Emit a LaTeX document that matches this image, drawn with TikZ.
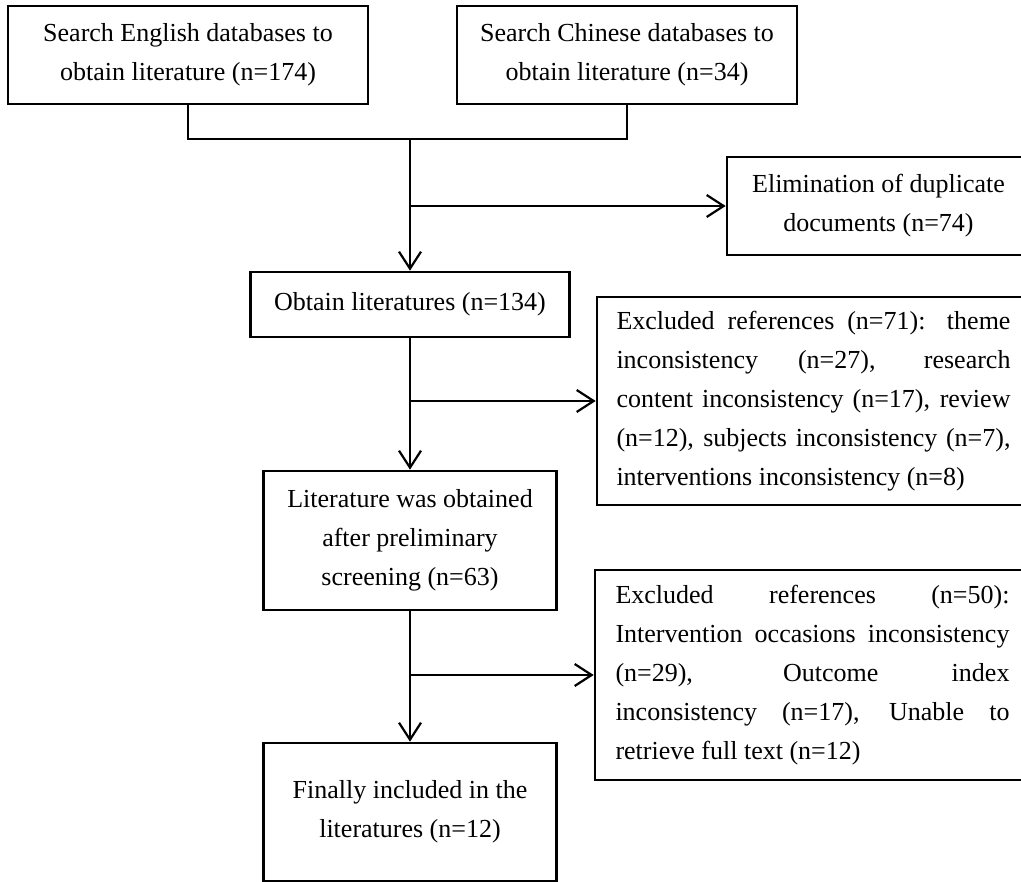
\documentclass[tikz,border=0pt]{standalone}
\usepackage{fontspec}
\setmainfont{Liberation Serif}
\usetikzlibrary{arrows.meta}
\newcommand{\jbox}[1]{\parbox{394pt}{\tolerance=10000\hyphenpenalty=10000\fontsize{26}{39}\selectfont #1}}
\begin{document}
\begin{tikzpicture}[x=1pt,y=-1pt,
  box/.style={draw, line width=2.6pt, inner sep=0pt, font=\fontsize{26}{39}\selectfont, align=center},
  jstbox/.style={draw, line width=2.6pt, inner sep=0pt},
  conn/.style={line width=2.2pt},
  arr/.style={conn, -{Straight Barb[length=17pt,width=22pt]}}]
\useasboundingbox (0,0) rectangle (1021,882);
\node[box, minimum width=360pt, minimum height=98pt] (eng) at (188,55) {Search English databases to\\obtain literature (n=174)};
\node[box, minimum width=340pt, minimum height=98pt] (chn) at (627,55) {Search Chinese databases to\\obtain literature (n=34)};
\node[box, minimum width=303pt, minimum height=98pt] (elim) at (878.5,206) {Elimination of duplicate\\documents (n=74)};
\node[box, minimum width=319pt, minimum height=65pt] (obt) at (410,304.5) {Obtain literatures (n=134)};
\node[jstbox, minimum width=433pt, minimum height=208pt] (ex1) at (813.5,401) {\jbox{Excluded references (n=71): theme\linebreak inconsistency (n=27), research\linebreak content inconsistency (n=17), review\linebreak (n=12), subjects inconsistency (n=7),\linebreak interventions inconsistency (n=8)}};
\node[box, minimum width=293pt, minimum height=139pt] (lit) at (410,540.5) {Literature was obtained\\after preliminary\\screening (n=63)};
\node[jstbox, minimum width=435pt, minimum height=210pt] (ex2) at (812.5,675) {\jbox{Excluded references (n=50):\linebreak Intervention occasions inconsistency\linebreak (n=29), Outcome index\linebreak inconsistency (n=17), Unable to\linebreak retrieve full text (n=12)}};
\node[box, minimum width=293pt, minimum height=138pt] (fin) at (410,812) {Finally included in the\\literatures (n=12)};
\coordinate (j1) at (410,139);
\coordinate (b1) at (410,206);
\coordinate (b2) at (410,401);
\coordinate (b3) at (410,675);
\draw[conn] (eng.south) |- (j1) -| (chn.south);
\draw[arr] (j1) -- (obt.north);
\draw[arr] (b1) -- (elim.west);
\draw[arr] (obt.south) -- (lit.north);
\draw[arr] (b2) -- (ex1.west);
\draw[arr] (lit.south) -- (fin.north);
\draw[arr] (b3) -- (ex2.west);
\end{tikzpicture}
\end{document}
